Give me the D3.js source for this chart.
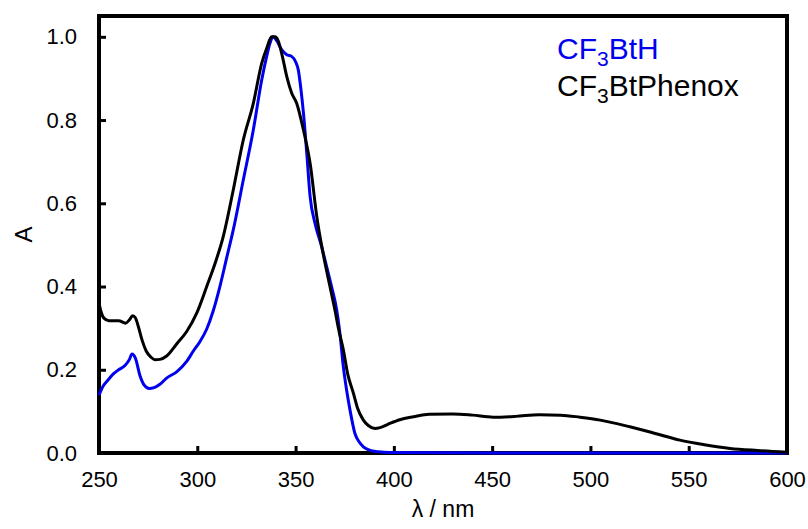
<!DOCTYPE html>
<html>
<head>
<meta charset="utf-8">
<script src="https://cdn.jsdelivr.net/npm/d3@7"></script>
<style>
  body { margin: 0; background: #fff; }
  text { font-family: "Liberation Sans", Arial, sans-serif; }
</style>
</head>
<body>
<div id="chart"></div>
<script>
// Absorption spectra (wavelength in nm, normalised A)
const bluWl = [250, 252, 254, 257.3, 260, 263.2, 265.5, 266.8, 268.5, 270.9, 273, 275.6, 278, 281, 284.4, 289.5, 294.6, 298, 301.4, 304.8, 308, 311.5, 315, 318.3, 323.4, 328.5, 332.8, 335.3, 337, 338.6, 340.5, 342.9, 345.5, 348, 350, 351.4, 352.7, 354, 355.7, 357.4, 360, 363, 365.8, 368.3, 370.9, 372.5, 374.3, 376, 377.7, 380.2, 382.3, 384.5, 387, 390, 395, 400, 450, 500, 550, 600]
const bluA  = [0.139, 0.16, 0.172, 0.19, 0.2, 0.21, 0.225, 0.238, 0.228, 0.185, 0.163, 0.155, 0.157, 0.165, 0.18, 0.195, 0.22, 0.245, 0.268, 0.298, 0.34, 0.4, 0.47, 0.536, 0.656, 0.776, 0.897, 0.953, 0.985, 1.0, 0.99, 0.969, 0.957, 0.953, 0.94, 0.92, 0.875, 0.817, 0.72, 0.616, 0.55, 0.5, 0.448, 0.4, 0.344, 0.29, 0.207, 0.15, 0.103, 0.047, 0.027, 0.015, 0.008, 0.004, 0.002, 0.001, 0.0, 0.0, 0.0, 0.0]

const blkWl = [250, 251, 252.5, 255, 260, 263.5, 265.5, 267.1, 268.5, 270, 272, 274, 276.5, 278.5, 281, 284.4, 289.5, 294.6, 299.7, 304.8, 309.5, 313.2, 318.3, 323.4, 328.5, 332.8, 335.5, 337.8, 339.5, 341.2, 343.2, 345.5, 348, 350.6, 354, 357.4, 360.8, 363, 365, 367.5, 370, 372, 374.3, 376.5, 379.4, 381.5, 384.5, 387, 390.4, 393, 397, 403, 410, 418, 430, 440, 450.5, 462, 474, 485, 494.7, 505, 520, 533, 545.5, 558, 571, 585, 600]
const blkA  = [0.36, 0.34, 0.324, 0.318, 0.318, 0.312, 0.32, 0.33, 0.325, 0.304, 0.27, 0.245, 0.23, 0.224, 0.225, 0.233, 0.262, 0.292, 0.336, 0.4, 0.462, 0.52, 0.632, 0.752, 0.84, 0.937, 0.975, 1.0, 1.0, 0.99, 0.955, 0.905, 0.865, 0.84, 0.776, 0.696, 0.568, 0.505, 0.456, 0.4, 0.344, 0.295, 0.248, 0.19, 0.144, 0.108, 0.079, 0.066, 0.059, 0.061, 0.069, 0.08, 0.087, 0.093, 0.094, 0.091, 0.086, 0.088, 0.092, 0.091, 0.086, 0.079, 0.063, 0.047, 0.031, 0.02, 0.011, 0.006, 0.002]

const xTicks = [250, 300, 350, 400, 450, 500, 550, 600]
const yTicks = [0, 0.2, 0.4, 0.6, 0.8, 1.0]

const width = 808
const height = 529
const plotL = 99, plotR = 787, plotT = 16, plotB = 453

const svg = d3.select("#chart")
    .append("svg")
    .attr("width", width)
    .attr("height", height)

// Scales
const xScale = d3.scaleLinear().domain([250, 600]).range([plotL, plotR])
const yScale = d3.scaleLinear().domain([0, 1.05]).range([plotB, plotT])

// Axes, ticks pointing inward
const xAxis = d3.axisBottom(xScale).tickValues(xTicks)
    .tickSizeInner(-7).tickSizeOuter(0).tickPadding(18)
    .tickFormat(d3.format("d"))
const yAxis = d3.axisLeft(yScale).tickValues(yTicks)
    .tickSizeInner(-7).tickSizeOuter(0).tickPadding(22)
    .tickFormat(d3.format(".1f"))

const gx = svg.append("g")
    .attr("transform", "translate(0," + plotB + ")")
    .call(xAxis)
const gy = svg.append("g")
    .attr("transform", "translate(" + plotL + ",0)")
    .call(yAxis)

for (const g of [gx, gy]) {
    g.select(".domain").remove()
    g.selectAll(".tick line").attr("stroke", "#000").attr("stroke-width", 3)
    g.selectAll(".tick text")
        .attr("fill", "#000")
        .style("font-size", "22px")
        .style("font-family", "'Liberation Sans', Arial, sans-serif")
}

// Plot frame
svg.append("rect")
    .attr("x", plotL).attr("y", plotT)
    .attr("width", plotR - plotL).attr("height", plotB - plotT)
    .attr("fill", "none")
    .attr("stroke", "#000")
    .attr("stroke-width", 4)

// Lines
const line = d3.line()
    .x(d => xScale(d[0]))
    .y(d => yScale(d[1]))
    .curve(d3.curveMonotoneX)

svg.append("path")
    .datum(d3.zip(bluWl, bluA))
    .attr("fill", "none")
    .attr("stroke", "#0000ee")
    .attr("stroke-width", 3)
    .attr("d", line)

svg.append("path")
    .datum(d3.zip(blkWl, blkA))
    .attr("fill", "none")
    .attr("stroke", "#000")
    .attr("stroke-width", 3)
    .attr("d", line)

// Axis titles
svg.append("text")
    .attr("x", (plotL + plotR) / 2)
    .attr("y", 517)
    .attr("text-anchor", "middle")
    .style("font-size", "23px")
    .text("λ / nm")

svg.append("text")
    .attr("transform", "translate(32," + (plotT + plotB) / 2 + ") rotate(-90)")
    .attr("text-anchor", "middle")
    .style("font-size", "24px")
    .text("A")

// Legend with subscript 3
const legend = [
    { name: "BtH", color: "#0000ee", y: 59 },
    { name: "BtPhenox", color: "#000", y: 96 }
]
legend.forEach(l => {
    const t = svg.append("text")
        .attr("x", 557)
        .attr("y", l.y)
        .attr("fill", l.color)
        .style("font-size", "30px")
    t.append("tspan").text("CF")
    t.append("tspan").attr("dy", 7).style("font-size", "21px").text("3")
    t.append("tspan").attr("dy", -7).text(l.name)
})
</script>
</body>
</html>
